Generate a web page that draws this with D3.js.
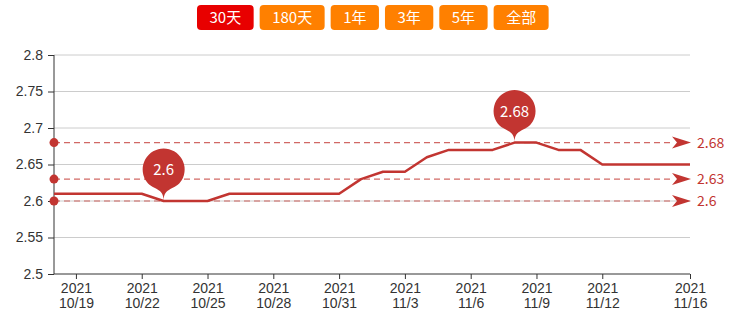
<!DOCTYPE html>
<html>
<head>
<meta charset="utf-8">
<script src="https://d3js.org/d3.v7.min.js"></script>
<style>
  body { margin: 0; background: #fff; }
  svg { display: block; font-family: "Noto Sans CJK SC", "Microsoft YaHei", sans-serif; }
  .grid line { stroke: #ccc; stroke-width: 1; }
  .axis path, .axis line { stroke: #333; }
  .axis text { fill: #333; font-size: 14px; }
</style>
</head>
<body>
<script>
// data
var dates = ["10/18","10/19","10/20","10/21","10/22","10/23","10/24","10/25","10/26","10/27",
             "10/28","10/29","10/30","10/31","11/1","11/2","11/3","11/4","11/5","11/6",
             "11/7","11/8","11/9","11/10","11/11","11/12","11/13","11/14","11/15","11/16"];
var values = [2.61,2.61,2.61,2.61,2.61,2.60,2.60,2.60,2.61,2.61,
              2.61,2.61,2.61,2.61,2.63,2.64,2.64,2.66,2.67,2.67,
              2.67,2.68,2.68,2.67,2.67,2.65,2.65,2.65,2.65,2.65];
var year = "2021";
var xTicks = ["10/19","10/22","10/25","10/28","10/31","11/3","11/6","11/9","11/12","11/16"];
var yTicks = [2.5,2.55,2.6,2.65,2.7,2.75,2.8];
var buttons = ["30天","180天","1年","3年","5年","全部"];

var W = 736, H = 318;
var margin = {top: 55, right: 46, bottom: 44, left: 54};
var red = "#c23531";

var svg = d3.select("body").append("svg").attr("width", W).attr("height", H);

// range buttons
var bx = 197;
buttons.forEach(function(b, i) {
  var g = svg.append("g");
  var t = g.append("text").attr("y", 23).attr("fill", "#fff")
      .style("font-size", "15px").text(b);
  var tw = t.node().getComputedTextLength();
  var bw = tw + 25;
  g.insert("rect", "text").attr("x", bx).attr("y", 5).attr("width", bw).attr("height", 25)
      .attr("rx", 4).attr("fill", i == 0 ? "#e80000" : "#ff8000");
  t.attr("x", bx + bw / 2).attr("text-anchor", "middle");
  bx += bw + 6;
});

var x = d3.scalePoint().domain(dates).range([margin.left, W - margin.right]);
var y = d3.scaleLinear().domain([2.5, 2.8]).range([H - margin.bottom, margin.top]);

// gridlines
svg.append("g").attr("class", "grid")
  .selectAll("line").data(yTicks.slice(1)).join("line")
  .attr("x1", margin.left).attr("x2", W - margin.right)
  .attr("y1", function(d) { return y(d); }).attr("y2", function(d) { return y(d); });

// y axis
var yAxis = svg.append("g").attr("class", "axis")
  .attr("transform", "translate(" + margin.left + ",0)")
  .call(d3.axisLeft(y).tickValues(yTicks).tickSize(6).tickPadding(5).tickFormat(function(d) { return String(+d.toFixed(2)); }));
yAxis.select(".domain").attr("d", "M0," + (H - margin.bottom) + "V" + margin.top);

// x axis
var xAxis = svg.append("g").attr("class", "axis")
  .attr("transform", "translate(0," + (H - margin.bottom) + ")")
  .call(d3.axisBottom(x).tickValues(xTicks).tickSize(5).tickFormat(""));
xAxis.select(".domain").attr("d", "M" + margin.left + ",0H" + (W - margin.right));
xAxis.selectAll(".tick").each(function(d) {
  var t = d3.select(this).append("text").attr("text-anchor", "middle").attr("fill", "#333")
      .style("font-size", "14px");
  t.append("tspan").attr("x", 0).attr("y", 19).text(year);
  t.append("tspan").attr("x", 0).attr("y", 34).text(d);
});

// mark lines: max, average, min
var maxV = d3.max(values), minV = d3.min(values);
var avgV = Math.round(d3.mean(values) * 100) / 100;
var marks = [maxV, avgV, minV];
var x0 = margin.left, x1 = W - margin.right;
marks.forEach(function(v) {
  var yy = y(v);
  svg.append("line").attr("x1", x0).attr("x2", x1 - 16).attr("y1", yy).attr("y2", yy)
    .attr("stroke", red).attr("stroke-opacity", 0.75).attr("stroke-width", 1.2)
    .attr("stroke-dasharray", "6,4");
  svg.append("circle").attr("cx", x0).attr("cy", yy).attr("r", 4.5).attr("fill", red);
  svg.append("path")
    .attr("d", "M" + (x1 - 18) + "," + (yy - 6) + "L" + (x1 + 1) + "," + yy + "L" + (x1 - 18) + "," + (yy + 6) + "L" + (x1 - 13) + "," + yy + "Z")
    .attr("fill", red);
  svg.append("text").attr("x", x1 + 7).attr("y", yy + 5).attr("fill", red)
    .style("font-size", "14px").text(String(+v.toFixed(2)));
});

// series line
var line = d3.line().x(function(d, i) { return x(dates[i]); }).y(function(d) { return y(d); });
svg.append("path").datum(values).attr("d", line)
  .attr("fill", "none").attr("stroke", red).attr("stroke-width", 2.5).attr("stroke-linejoin", "round");

// pin markers (max and min)
function pinPath(px, py, r, h) {
  var dy = r * r / (h - r);
  var cy = py - h + r + dy;
  var ang = Math.asin(dy / r);
  var dx = Math.cos(ang) * r;
  var tanX = Math.sin(ang), tanY = Math.cos(ang);
  var c1 = r * 0.6, c2 = r * 0.7;
  var p = d3.path();
  p.moveTo(px - dx, cy + dy);
  p.arc(px, cy, r, Math.PI - ang, Math.PI * 2 + ang);
  p.bezierCurveTo(px + dx - tanX * c1, cy + dy + tanY * c1, px, py - c2, px, py);
  p.bezierCurveTo(px, py - c2, px - dx + tanX * c1, cy + dy + tanY * c1, px - dx, cy + dy);
  p.closePath();
  return {d: p.toString(), cy: cy};
}
var pins = [values.indexOf(maxV), values.indexOf(minV)];
pins.forEach(function(i) {
  var pp = pinPath(x(dates[i]), y(values[i]), 21, 63);
  svg.append("path").attr("d", pp.d).attr("fill", red);
  svg.append("text").attr("x", x(dates[i])).attr("y", pp.cy + 5.5).attr("text-anchor", "middle")
    .attr("fill", "#fff").style("font-size", "15px").text(String(values[i]));
});
</script>
</body>
</html>
